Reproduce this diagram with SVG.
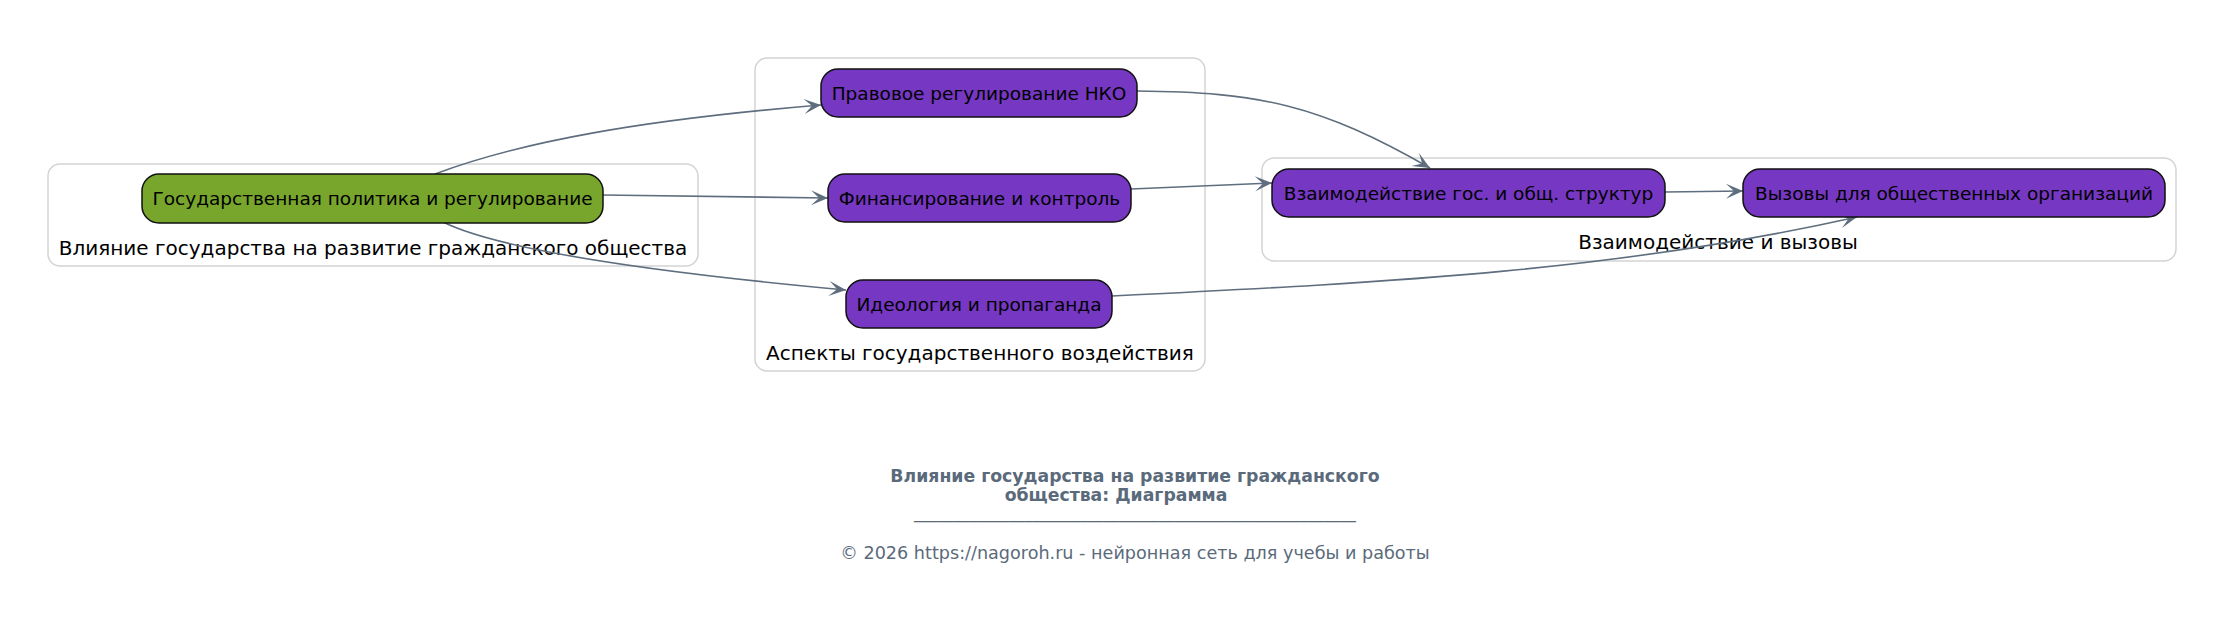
<svg xmlns="http://www.w3.org/2000/svg" width="2235" height="639" viewBox="0 0 2235 639">
<style>
.bg{fill:#ffffff}
.cluster{fill:#ffffff;stroke:#d3d3d3;stroke-width:1.5}
.node{stroke:#111111;stroke-width:1.5}
.green{fill:#78a62d}
.purple{fill:#7637c3}
.ntext{font-family:"DejaVu Sans",sans-serif;font-size:18.5px;fill:#000000;text-anchor:middle;dominant-baseline:central}
.ctext{font-family:"DejaVu Sans",sans-serif;font-size:20px;fill:#000000;text-anchor:middle}
.edge{fill:none;stroke:#5e6e7e;stroke-width:1.6;marker-end:url(#arr)}
.title{font-family:"DejaVu Sans",sans-serif;font-size:17.3px;font-weight:bold;fill:#5a6a7b;text-anchor:middle}
.foot{font-family:"DejaVu Sans",sans-serif;font-size:17.6px;fill:#5a6a7b;text-anchor:middle}
</style>
<defs>
<marker id="arr" markerUnits="userSpaceOnUse" markerWidth="20" markerHeight="18" refX="0" refY="0" viewBox="-18 -9 20 18" orient="auto">
<path d="M0,0 L-17,-7.5 L-9,0 L-17,7.5 Z" fill="#5e6e7e"/>
</marker>
</defs>
<rect class="bg" x="0" y="0" width="2235" height="639"/>
<g id="cluster-1">
<rect class="cluster" x="48" y="164" width="650" height="102" rx="12"/>
<text class="ctext" x="373" y="255">Влияние государства на развитие гражданского общества</text>
</g>
<g id="cluster-2">
<rect class="cluster" x="755" y="58" width="450" height="313" rx="12"/>
<text class="ctext" x="980" y="360">Аспекты государственного воздействия</text>
</g>
<g id="cluster-3">
<rect class="cluster" x="1262" y="158" width="914" height="103" rx="12"/>
<text class="ctext" x="1718" y="249">Взаимодействие и вызовы</text>
</g>
<g id="connectors">
<path class="edge" d="M435,174 C520,142 640,120 821,105"/>
<path class="edge" d="M603,195 L828,198"/>
<path class="edge" d="M443,222 C500,250 650,272 846,290"/>
<path class="edge" d="M1137,91 C1260,92 1320,105 1430,168"/>
<path class="edge" d="M1131,189 L1272,183"/>
<path class="edge" d="M1112,296 C1400,282 1620,270 1857,217"/>
<path class="edge" d="M1665,192 L1743,191"/>
</g>
<g id="node-gov">
<rect class="node green" x="142" y="174" width="461" height="49" rx="17"/>
<text class="ntext" x="372.5" y="198.5">Государственная политика и регулирование</text>
</g>
<g id="node-legal">
<rect class="node purple" x="821" y="69" width="316" height="48" rx="17"/>
<text class="ntext" x="979" y="93">Правовое регулирование НКО</text>
</g>
<g id="node-finance">
<rect class="node purple" x="828" y="174" width="303" height="48" rx="17"/>
<text class="ntext" x="979.5" y="198">Финансирование и контроль</text>
</g>
<g id="node-ideology">
<rect class="node purple" x="846" y="280" width="266" height="48" rx="17"/>
<text class="ntext" x="979" y="304">Идеология и пропаганда</text>
</g>
<g id="node-interaction">
<rect class="node purple" x="1272" y="169" width="393" height="48" rx="17"/>
<text class="ntext" x="1468.5" y="193">Взаимодействие гос. и общ. структур</text>
</g>
<g id="node-challenges">
<rect class="node purple" x="1743" y="169" width="422" height="48" rx="17"/>
<text class="ntext" x="1954" y="193">Вызовы для общественных организаций</text>
</g>
<g id="footer">
<text class="title" x="1135" y="482">Влияние государства на развитие гражданского</text>
<text class="title" x="1116" y="501">общества: Диаграмма</text>
<text class="foot" x="1135" y="517.5" textLength="442" lengthAdjust="spacingAndGlyphs">________________________________________________________</text>
<text class="foot" x="1135" y="559">© 2026 https://nagoroh.ru - нейронная сеть для учебы и работы</text>
</g>
</svg>
